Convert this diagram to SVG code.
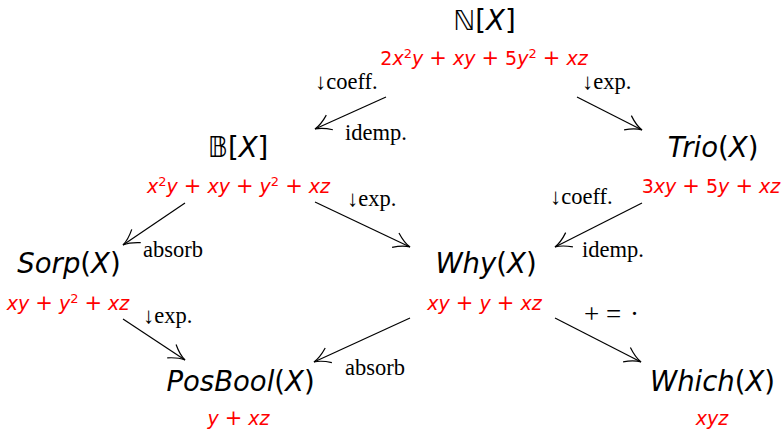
<svg xmlns="http://www.w3.org/2000/svg" width="782" height="430" viewBox="0 0 782 430">
<style>
.name{font-family:"DejaVu Sans",sans-serif;font-size:27.5px;fill:#000;text-anchor:middle}
.poly{font-family:"DejaVu Sans",sans-serif;font-size:19px;fill:#ff0000;text-anchor:middle}
.i{font-style:italic}
.op{font-size:21px}
.sup{font-size:13px}
.lbl{font-family:"Liberation Serif","DejaVu Serif",serif;font-size:22.5px;fill:#000}
.sym{font-family:"Liberation Serif","DejaVu Serif",serif;font-size:27px;fill:#000}
.edge{fill:none;stroke:#000;stroke-width:1.2;marker-end:url(#ah)}
</style>
<defs>
<marker id="ah" markerUnits="userSpaceOnUse" markerWidth="24" markerHeight="24" viewBox="-20 -12 24 24" refX="0" refY="0" orient="auto" overflow="visible">
<path d="M -16,-8 C -10,-3.5 -4,-0.8 0,0 C -4,0.8 -10,3.5 -16,8" fill="none" stroke="#000" stroke-width="1.2"/>
</marker>
</defs>
<rect width="782" height="430" fill="#fff"/>
<g id="connectors">
<line class="edge" x1="386" y1="97" x2="315" y2="129"/>
<line class="edge" x1="577" y1="97" x2="642" y2="130"/>
<line class="edge" x1="185" y1="203" x2="123" y2="245"/>
<line class="edge" x1="315" y1="202" x2="410" y2="247"/>
<line class="edge" x1="642" y1="203" x2="555" y2="247"/>
<line class="edge" x1="123" y1="319" x2="185" y2="360"/>
<line class="edge" x1="410" y1="318" x2="314" y2="362"/>
<line class="edge" x1="555" y1="318" x2="641" y2="362"/>
<text class="lbl" x="315" y="89">↓coeff.</text>
<text class="lbl" x="345" y="140">idemp.</text>
<text class="lbl" x="582" y="89">↓exp.</text>
<text class="lbl" x="143" y="257">absorb</text>
<text class="lbl" x="347" y="206">↓exp.</text>
<text class="lbl" x="550" y="204">↓coeff.</text>
<text class="lbl" x="582" y="257">idemp.</text>
<text class="lbl" x="143" y="323">↓exp.</text>
<text class="lbl" x="345" y="375">absorb</text>
<text class="sym" y="323"><tspan x="584">+</tspan><tspan x="606">=</tspan><tspan x="630">·</tspan></text>
</g>
<g id="NX">
<text class="name" x="484.5" y="30">ℕ[<tspan class="i">X</tspan>]</text>
<text class="poly" x="484" y="65">2<tspan class="i">x</tspan><tspan class="sup" dy="-7">2</tspan><tspan class="i" dy="7">y</tspan> <tspan class="op">+</tspan> <tspan class="i">xy</tspan> <tspan class="op">+</tspan> 5<tspan class="i">y</tspan><tspan class="sup" dy="-7">2</tspan><tspan dy="7"> </tspan><tspan class="op">+</tspan> <tspan class="i">xz</tspan></text>
</g>
<g id="BX">
<text class="name" x="238" y="157">𝔹[<tspan class="i">X</tspan>]</text>
<text class="poly" x="238.5" y="193"><tspan class="i">x</tspan><tspan class="sup" dy="-7">2</tspan><tspan class="i" dy="7">y</tspan> <tspan class="op">+</tspan> <tspan class="i">xy</tspan> <tspan class="op">+</tspan> <tspan class="i">y</tspan><tspan class="sup" dy="-7">2</tspan><tspan dy="7"> </tspan><tspan class="op">+</tspan> <tspan class="i">xz</tspan></text>
</g>
<g id="TrioX">
<text class="name" x="713" y="157"><tspan class="i">Trio</tspan>(<tspan class="i">X</tspan>)</text>
<text class="poly" x="711" y="193">3<tspan class="i">xy</tspan> <tspan class="op">+</tspan> 5<tspan class="i">y</tspan> <tspan class="op">+</tspan> <tspan class="i">xz</tspan></text>
</g>
<g id="SorpX">
<text class="name" x="69" y="273"><tspan class="i">Sorp</tspan>(<tspan class="i">X</tspan>)</text>
<text class="poly" x="68" y="309.5"><tspan class="i">xy</tspan> <tspan class="op">+</tspan> <tspan class="i">y</tspan><tspan class="sup" dy="-7">2</tspan><tspan dy="7"> </tspan><tspan class="op">+</tspan> <tspan class="i">xz</tspan></text>
</g>
<g id="WhyX">
<text class="name" x="486" y="273"><tspan class="i">Why</tspan>(<tspan class="i">X</tspan>)</text>
<text class="poly" x="484.5" y="309.5"><tspan class="i">xy</tspan> <tspan class="op">+</tspan> <tspan class="i">y</tspan> <tspan class="op">+</tspan> <tspan class="i">xz</tspan></text>
</g>
<g id="PosBoolX">
<text class="name" x="240.5" y="391"><tspan class="i">PosBool</tspan>(<tspan class="i">X</tspan>)</text>
<text class="poly" x="238.5" y="424.5"><tspan class="i">y</tspan> <tspan class="op">+</tspan> <tspan class="i">xz</tspan></text>
</g>
<g id="WhichX">
<text class="name" x="712.5" y="391"><tspan class="i">Which</tspan>(<tspan class="i">X</tspan>)</text>
<text class="poly" x="712" y="424.5"><tspan class="i">xyz</tspan></text>
</g>
</svg>
